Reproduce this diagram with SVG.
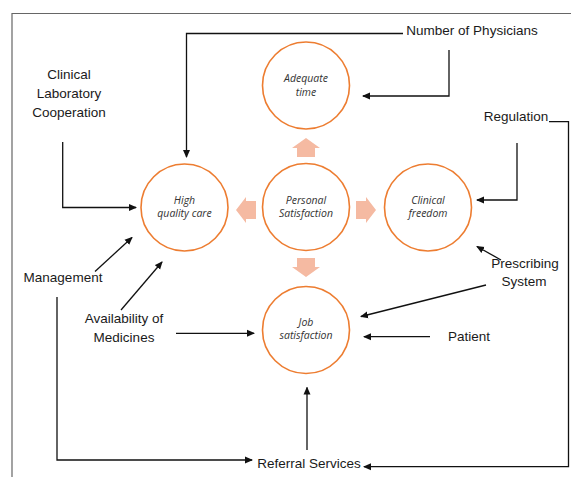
<svg xmlns="http://www.w3.org/2000/svg" width="571" height="477" viewBox="0 0 571 477">
<style>
.lbl{font-family:"Liberation Sans",Arial,sans-serif;font-size:13.5px;fill:#1a1a1a;text-anchor:middle}
.in{font-family:"Open Sans","Liberation Sans",sans-serif;font-size:10.5px;font-style:italic;fill:#333;text-anchor:middle}
.node circle{fill:#fff;stroke:#ED7D31;stroke-width:1.6}
.ln{fill:none;stroke:#111;stroke-width:1.3}
.big{fill:#F5BAA2}
</style>
<defs>
<marker id="ah" markerWidth="8" markerHeight="8" refX="7" refY="4" orient="auto" markerUnits="userSpaceOnUse">
<path d="M0,0.5 L8,4 L0,7.5 Z" fill="#111"/>
</marker>
</defs>
<rect x="0" y="0" width="571" height="477" fill="#fff"/>
<g id="frame" fill="none" stroke="#666" stroke-width="1.2">
<path d="M12,477 V13.5 H571"/>
</g>
<g id="big-arrows">
<path class="big" d="M306,138 L320,148 L315,148 L315,157 L297,157 L297,148 L292,148 Z"/>
<path class="big" d="M306,277 L320,267 L315,267 L315,258 L297,258 L297,267 L292,267 Z"/>
<path class="big" d="M236,210 L246,197 L246,201 L256,201 L256,219 L246,219 L246,223 Z"/>
<path class="big" d="M376,210 L366,197 L366,201 L356,201 L356,219 L366,219 L366,223 Z"/>
</g>
<g id="n-adequate" class="node"><circle cx="306" cy="85.5" r="43.5"/><text class="in" x="306" y="82">Adequate</text><text class="in" x="306" y="96">time</text></g>
<g id="n-personal" class="node"><circle cx="306" cy="207" r="43.5"/><text class="in" x="306" y="204">Personal</text><text class="in" x="306" y="217">Satisfaction</text></g>
<g id="n-high" class="node"><circle cx="184.5" cy="207.5" r="43.5"/><text class="in" x="184.5" y="204">High</text><text class="in" x="184.5" y="217">quality care</text></g>
<g id="n-clinical" class="node"><circle cx="428" cy="207.5" r="43.5"/><text class="in" x="428" y="204">Clinical</text><text class="in" x="428" y="217">freedom</text></g>
<g id="n-job" class="node"><circle cx="306" cy="330" r="43.5"/><text class="in" x="306" y="326">Job</text><text class="in" x="306" y="339">satisfaction</text></g>
<g id="connectors">
<path class="ln" d="M403,33.5 H186.5 V157" marker-end="url(#ah)"/>
<path class="ln" d="M449,50 V96 H363" marker-end="url(#ah)"/>
<path class="ln" d="M62.7,142 V207.5 H136" marker-end="url(#ah)"/>
<path class="ln" d="M517,143 V200 H477" marker-end="url(#ah)"/>
<path class="ln" d="M549,121.7 H568.5 V466.7 H364" marker-end="url(#ah)" stroke="#222"/>
<path class="ln" d="M95,271.5 L132,237.5" marker-end="url(#ah)"/>
<path class="ln" d="M121,310 L162,262" marker-end="url(#ah)"/>
<path class="ln" d="M501,260 L477,246.5" marker-end="url(#ah)"/>
<path class="ln" d="M486,285 L361,316.5" marker-end="url(#ah)"/>
<path class="ln" d="M176,333.3 H254" marker-end="url(#ah)"/>
<path class="ln" d="M430,336.7 H364" marker-end="url(#ah)"/>
<path class="ln" d="M307,450 V387.5" marker-end="url(#ah)"/>
<path class="ln" d="M57,297 V460 H252" marker-end="url(#ah)"/>
</g>
<g id="t-physicians"><text class="lbl" x="472" y="35">Number of Physicians</text></g>
<g id="t-lab"><text class="lbl" x="69" y="79">Clinical</text><text class="lbl" x="69" y="98">Laboratory</text><text class="lbl" x="69" y="117">Cooperation</text></g>
<g id="t-regulation"><text class="lbl" x="516" y="121">Regulation</text></g>
<g id="t-management"><text class="lbl" x="63" y="281.5">Management</text></g>
<g id="t-prescribing"><text class="lbl" x="525" y="268">Prescribing</text><text class="lbl" x="524" y="286">System</text></g>
<g id="t-availability"><text class="lbl" x="124" y="323">Availability of</text><text class="lbl" x="124" y="342">Medicines</text></g>
<g id="t-patient"><text class="lbl" x="469" y="341">Patient</text></g>
<g id="t-referral"><text class="lbl" x="309" y="468">Referral Services</text></g>
</svg>
